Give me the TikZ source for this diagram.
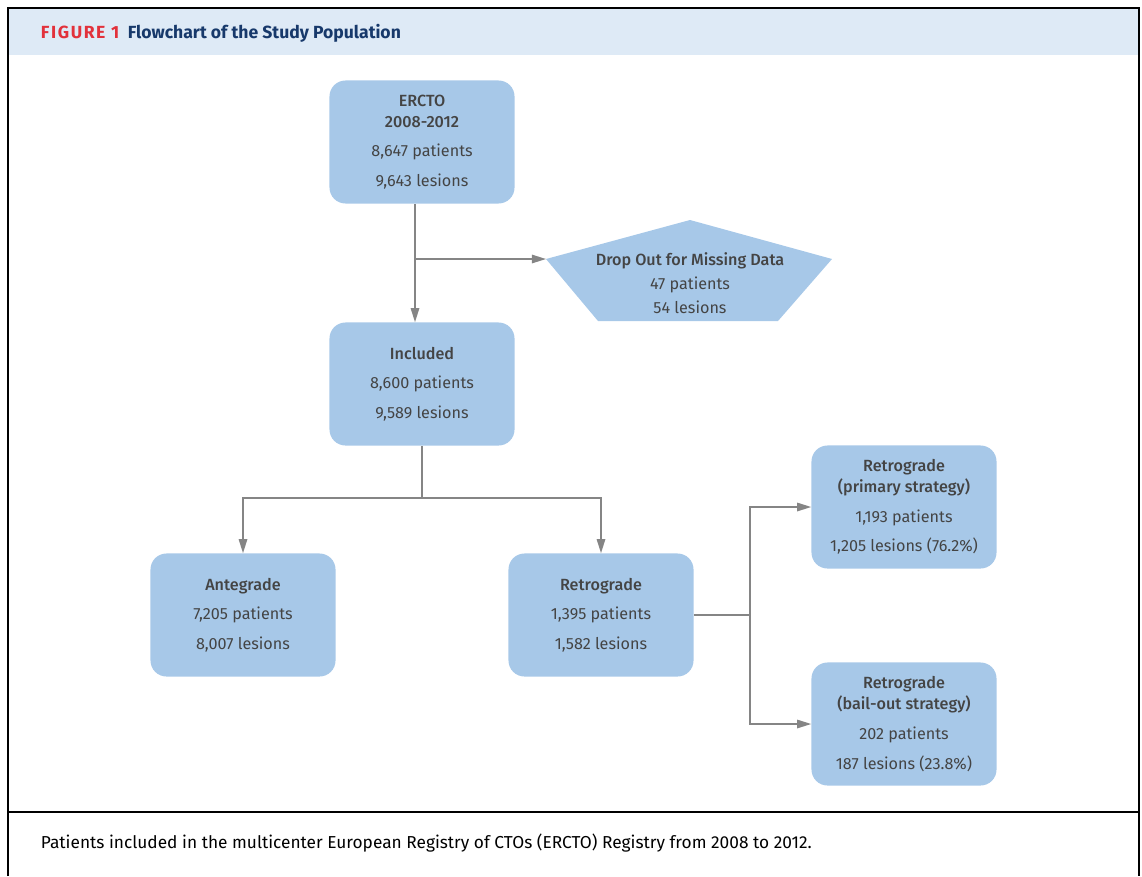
\documentclass[tikz,border=0pt]{standalone}
\usepackage{fontspec}
\setmainfont{Fira Sans}[BoldFont={Fira Sans Medium}]
\newfontfamily\headfont{Fira Sans}
\usepackage{xcolor}
\usetikzlibrary{arrows.meta, positioning}
\definecolor{boxblue}{HTML}{A7C8E8}
\definecolor{headblue}{HTML}{DEEAF6}
\definecolor{figred}{HTML}{E2313B}
\definecolor{titlenavy}{HTML}{17396B}
\definecolor{linegray}{HTML}{858585}
\definecolor{textgray}{HTML}{444444}

\begin{document}
\begin{tikzpicture}[x=0.025cm, y=-0.025cm, >={Triangle[length=10pt, width=6pt]},
every node/.style = {text=textgray, font=\fontsize{11.5}{15}\selectfont},
box/.style = {shape=rectangle, rounded corners=0.4cm, fill=boxblue, minimum width=4.625cm, minimum height=3.075cm, align=center, inner sep=0pt},
link/.style = {draw=linegray, line width=1.1pt}]

\useasboundingbox (0,0) rectangle (1142,876);
\fill[headblue] (8,8) rectangle (1139,55);
\draw[line width=1.5pt] (8,876) -- (8,8) -- (1139,8) -- (1139,876);
\draw[line width=1.2pt] (8,812) -- (1139,812);

\node[anchor=west, font=\fontsize{12.5}{14}\headfont\bfseries] (title) at (36,33) {{\color{figred}\addfontfeatures{LetterSpace=9}FIGURE 1}\hspace{6pt}{\color{titlenavy}Flowchart of the Study Population}};

\node[box] (ercto) at (422,142) {\textbf{ERCTO}\\\textbf{2008-2012}\\[6pt]8,647 patients\\[6pt]9,643 lesions};
\node[box] (incl) at (422,384) {\textbf{Included}\\[6pt]8,600 patients\\[6pt]9,589 lesions};
\node[box] (ante) at (243,615) {\textbf{Antegrade}\\[6pt]7,205 patients\\[6pt]8,007 lesions};
\node[box] (retro) at (601,615) {\textbf{Retrograde}\\[6pt]1,395 patients\\[6pt]1,582 lesions};
\node[box] (prim) at (904,507) {\textbf{Retrograde}\\\textbf{(primary strategy)}\\[6pt]1,193 patients\\[6pt]1,205 lesions (76.2\%)};
\node[box] (bail) at (904,724) {\textbf{Retrograde}\\\textbf{(bail-out strategy)}\\[6pt]202 patients\\[6pt]187 lesions (23.8\%)};

\coordinate (dropL) at (546,259);
\fill[boxblue] (dropL) -- (690,220) -- (832,259) -- (778,321) -- (598,321) -- cycle;
\node[align=center] (drop) at (690,283) {\textbf{Drop Out for Missing Data}\\[2pt]47 patients\\[2pt]54 lesions};

\coordinate (split1) at (415,259);
\coordinate (split2) at (422,498);
\coordinate (split3) at (750,615);
\draw[link, ->] (ercto.south -| split1) -- (incl.north -| split1);
\draw[link, ->] (split1) -- (dropL);
\draw[link] (incl.south) -- (split2);
\draw[link, ->] (split2) -| (ante.north);
\draw[link, ->] (split2) -| (retro.north);
\draw[link] (retro.east) -- (split3);
\draw[link, ->] (split3) |- (prim.west);
\draw[link, ->] (split3) |- (bail.west);

\node[anchor=west, text=black, font=\fontsize{12.3}{14}\selectfont] (caption) at (36,843) {Patients included in the multicenter European Registry of CTOs (ERCTO) Registry from 2008 to 2012.};
\end{tikzpicture}
\end{document}
